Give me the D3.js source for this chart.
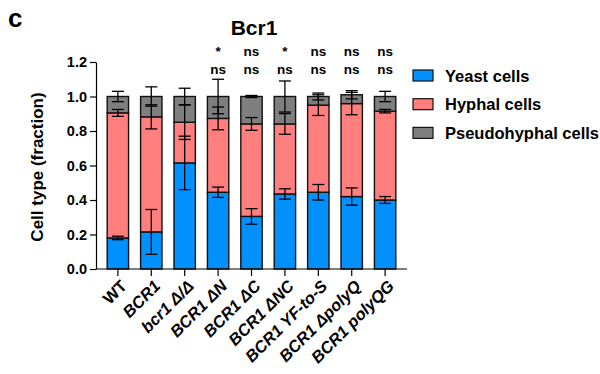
<!DOCTYPE html>
<html><head><meta charset="utf-8">
<script src="https://cdn.jsdelivr.net/npm/d3@7"></script>
<style>body{margin:0;background:#fff}svg{display:block;font-family:Arial,"Liberation Sans",sans-serif}</style>
</head><body><svg id="c" width="600" height="374"></svg>
<script>
const categories = ["WT","BCR1","bcr1 Δ/Δ","BCR1 ΔN","BCR1 ΔC","BCR1 ΔNC","BCR1 YF-to-S","BCR1 ΔpolyQ","BCR1 polyQG"];
const italicLabel = [false,true,true,true,true,true,true,true,true];
const yeast      = [0.180,0.215,0.615,0.445,0.305,0.435,0.445,0.420,0.400];
const yeastErr   = [0.010,0.130,0.155,0.030,0.045,0.030,0.045,0.050,0.020];
const hyphal     = [0.725,0.667,0.236,0.428,0.536,0.406,0.505,0.539,0.515];
const hyphalErr  = [0.020,0.070,0.100,0.066,0.037,0.060,0.060,0.065,0.010];
const pseudo     = [0.095,0.118,0.149,0.127,0.159,0.159,0.050,0.051,0.085];
const pseudoErr  = [0.030,0.056,0.048,0.100,0.006,0.090,0.020,0.024,0.030];
const sigTop     = ["","","","*","ns","*","ns","ns","ns"];
const sigBottom  = ["","","","ns","ns","ns","ns","ns","ns"];
const seriesNames = ["Yeast cells","Hyphal cells","Pseudohyphal cells"];
const seriesColors = ["#0091FF","#FF7F7F","#7F7F7F"];
const yTicks = [0,0.2,0.4,0.6,0.8,1.0,1.2];

const svg = d3.select("#c");
const x = d3.scaleBand().domain(categories).range([96,407]).paddingInner(0.36).paddingOuter(0.335);
const y = d3.scaleLinear().domain([0,1.2]).range([269,62]);

const series = [yeast, hyphal, pseudo];
const errs = [yeastErr, hyphalErr, pseudoErr];
const rows = categories.map((c,i)=>{
  let base = 0;
  return series.map((s,k)=>{ const r={cat:c,k,y0:base,y1:base+s[i],err:errs[k][i]}; base+=s[i]; return r; });
});
const segs = rows.flat();

svg.append("g").selectAll("rect").data(segs).join("rect")
  .attr("x",d=>x(d.cat)).attr("width",x.bandwidth())
  .attr("y",d=>y(d.y1)).attr("height",d=>y(d.y0)-y(d.y1))
  .attr("fill",d=>seriesColors[d.k]).attr("stroke","#111").attr("stroke-width",1.4);

const eb = svg.append("g").attr("stroke","#000").attr("stroke-width",1.3);
segs.forEach(d=>{
  const cx = x(d.cat)+x.bandwidth()/2;
  const hi = y(d.y1+d.err), lo = y(d.y1-d.err);
  eb.append("line").attr("x1",cx).attr("x2",cx).attr("y1",hi).attr("y2",lo);
  eb.append("line").attr("x1",cx-6).attr("x2",cx+6).attr("y1",hi).attr("y2",hi);
  eb.append("line").attr("x1",cx-6).attr("x2",cx+6).attr("y1",lo).attr("y2",lo);
});

// axes
const ya = svg.append("g").attr("transform","translate(96,0)")
  .call(d3.axisLeft(y).tickValues(yTicks).tickFormat(d3.format(".1f")).tickSize(6).tickSizeOuter(0));
ya.selectAll("path,line").attr("stroke","#000").attr("stroke-width",1.2);
ya.selectAll("text").attr("font-size",14.5).attr("font-weight","bold").attr("fill","#000")
  .attr("font-family",'Arial,"Liberation Sans",sans-serif').attr("x",-9);

const xa = svg.append("g").attr("transform","translate(0,269)")
  .call(d3.axisBottom(x).tickSize(7).tickSizeOuter(0).tickFormat(""));
xa.select("path").attr("d","M96,0H407").attr("stroke","#000").attr("stroke-width",1.2);
xa.selectAll("line").attr("stroke","#000").attr("stroke-width",1.2);

svg.append("g").selectAll("text").data(categories).join("text")
  .attr("transform",d=>`translate(${x(d)+x.bandwidth()/2+6},${283}) rotate(-45)`)
  .attr("text-anchor","end").attr("dy","0.35em")
  .attr("font-size",16.5).attr("font-weight","bold")
  .attr("font-style",(d,i)=>italicLabel[i]?"italic":"normal")
  .text(d=>d);

// significance
svg.append("g").selectAll("text").data(categories).join("text")
  .attr("x",d=>x(d)+x.bandwidth()/2).attr("y",56)
  .attr("text-anchor","middle").attr("font-size",13.5).attr("font-weight","bold")
  .text((d,i)=>sigTop[i]);
svg.append("g").selectAll("text").data(categories).join("text")
  .attr("x",d=>x(d)+x.bandwidth()/2).attr("y",74)
  .attr("text-anchor","middle").attr("font-size",13.5).attr("font-weight","bold")
  .text((d,i)=>sigBottom[i]);

// title, panel letter, y title
svg.append("text").attr("x",254).attr("y",35).attr("text-anchor","middle")
  .attr("font-size",21).attr("font-weight","bold").text("Bcr1");
svg.append("text").attr("x",8).attr("y",27)
  .attr("font-size",26).attr("font-weight","bold").text("c");
svg.append("text").attr("transform","translate(43,167) rotate(-90)").attr("text-anchor","middle")
  .attr("font-size",17).attr("font-weight","bold").text("Cell type (fraction)");

// legend
const lg = svg.append("g").selectAll("g").data(seriesNames).join("g")
  .attr("transform",(d,i)=>`translate(413,${70+i*28.7})`);
lg.append("rect").attr("width",20).attr("height",11).attr("fill",(d,i)=>seriesColors[i])
  .attr("stroke","#111").attr("stroke-width",1.2);
lg.append("text").attr("x",32).attr("y",6).attr("dy","0.35em")
  .attr("font-size",16.5).attr("font-weight","bold").text(d=>d);
</script></body></html>
